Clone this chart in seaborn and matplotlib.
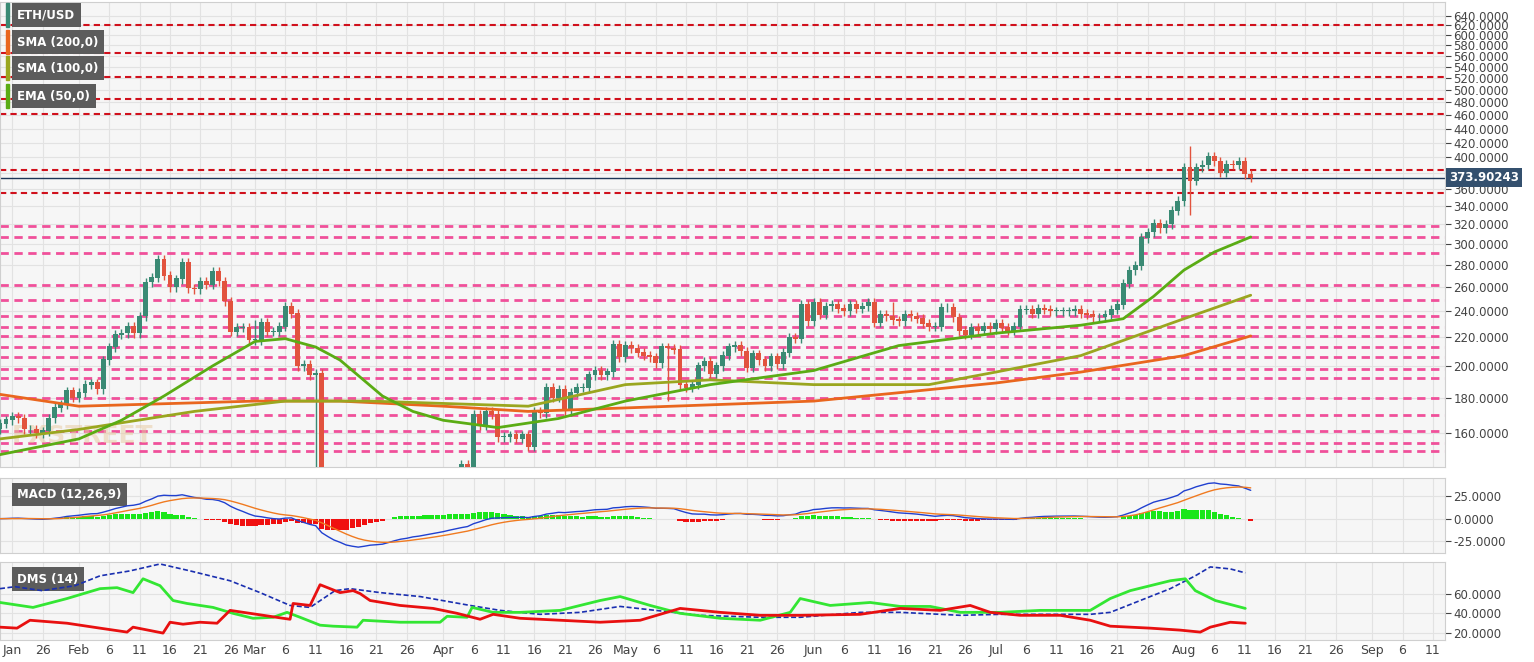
import numpy as np
import pandas as pd
import matplotlib
matplotlib.use("Agg")
import matplotlib.pyplot as plt
import seaborn as sns
from matplotlib.ticker import FixedLocator, NullLocator

sns.set_style("whitegrid")
plt.rcParams['font.family'] = ['DejaVu Sans']

# ---- data (day index 0 = Jan 19, 2020) ----
close_jan = [165,167,169,168,162,162,160,161,168,174,176,184,180]
close_feb = [183,188,189,185,204,213,222,223,228,223,236,264,268,285,270,260,267,282,259,258,
             265,262,274,265,248,224,227,227,218]
close_mar = [218,231,224,224,228,244,238,200,201,194,195,112,133,124,126,110,118,114,132,133,
             123,122,135,138,136,129,135,128,132,133,133]
close_apr = [136,141,141,144,143,170,164,172,170,158,158,159,157,159,153,172,171,186,180,185,
             172,183,186,186,194,197,194,196,215,206]
close_may = [214,212,209,207,206,202,213,212,211,188,186,188,200,203,195,200,207,213,214,210,
             199,208,204,200,206,201,209,220,219,245,232]
close_jun = [247,237,244,245,242,240,245,242,244,247,231,237,236,233,232,237,236,234,230,228,
             228,243,243,235,225,222,227,225,228,226]
close_jul = [230,227,225,228,241,241,238,242,241,240,240,240,240,241,238,237,235,235,237,241,
             245,263,275,279,306,312,321,316,320,335,346]
close_aug = [387,370,387,390,401,395,380,391,390,395,378,374]
first_open = 162
extra_high = {196: 415, 147: 247, 42: 233}
extra_low = {196: 330, 52: 140, 110: 178}

# moving averages (day index, value)
ema50_pts = [(0,149),(13,157),(20,167),(27,181),(35,200),(42,217),(47,219),(52,213),(56,204),
             (63,181),(68,172),(73,167),(82,163),(92,168),(103,178),(117,188),(134,197),(148,214),
             (164,223),(178,229),(185,234),(190,252),(195,275),(200,292),(206,307)]
sma100_pts = [(0,157),(13,162),(32,172),(47,178),(61,178),(87,175),(103,188),(117,191),(134,188),
              (153,188),(164,196),(178,207),(195,234),(206,253)]
sma200_pts = [(0,182),(13,175),(42,178),(56,178),(73,175),(87,172),(103,174),(134,178),(148,183),
              (164,189),(178,196),(195,207),(206,221)]

# DMS lines (pixel x, value)
adx_pts = [(0,65),(15,67),(42,63),(75,68),(100,78),(130,83),(160,90),(190,83),(230,73),(260,61),
           (290,48),(310,46),(335,63),(350,65),(380,61),(420,57),(470,48),(500,43),(540,39),(580,41),
           (620,47),(700,38),(760,36),(800,36),(860,41),(900,41),(960,38),(1000,39),(1050,39),(1090,39),
           (1110,41),(1140,53),(1170,65),(1195,78),(1210,87),(1230,85),(1245,81)]
dip_pts = [(0,51),(33,46),(67,55),(100,65),(117,66),(133,61),(143,75),(160,68),(173,53),(187,50),
           (200,48),(213,46),(233,40),(253,35),(273,36),(287,41),(300,36),(320,28),(333,27),(357,26),
           (363,33),(400,31),(440,31),(447,37),(467,36),(472,46),(493,41),(520,41),(560,43),(600,53),
           (620,57),(650,48),(680,40),(720,35),(760,33),(790,41),(800,55),(830,48),(870,51),(900,47),
           (930,47),(960,41),(1000,41),(1040,43),(1090,43),(1110,55),(1130,63),(1150,68),(1170,73),
           (1185,75),(1195,63),(1215,53),(1245,45)]
dim_pts = [(0,26),(17,25),(30,33),(67,30),(100,25),(127,21),(133,26),(163,20),(170,31),(183,29),
           (200,31),(217,30),(230,43),(250,40),(283,35),(290,34),(293,50),(310,48),(320,69),(340,61),
           (353,63),(360,60),(370,53),(400,48),(433,45),(457,40),(480,34),(493,39),(520,35),(560,33),
           (600,31),(640,33),(680,45),(720,41),(760,38),(800,38),(860,39),(900,45),(940,43),(970,48),
           (990,41),(1020,38),(1060,38),(1090,33),(1110,27),(1150,25),(1180,23),(1200,21),(1210,26),
           (1230,31),(1245,30)]

red_levels = [620, 565, 522, 486, 462, 383, 355]
pink_levels = [318, 307, 291, 262, 249, 236, 228, 221, 213, 206, 198, 192, 180, 170, 161, 155, 151]
price_ticks = list(range(160, 641, 20))
last_price = 373.90243

# ---- build frames ----
close = np.array(close_jan+close_feb+close_mar+close_apr+close_may+close_jun+close_jul+close_aug, float)
n = len(close)
days = np.arange(n)
opn = np.concatenate([[first_open], close[:-1]])
high = np.maximum(opn, close)*1.015
low = np.minimum(opn, close)*0.985
for k, v in extra_high.items(): high[k] = v
for k, v in extra_low.items(): low[k] = v

PX = 6.07  # pixels per day in reference
def px2day(p): return p/PX

W, H = 1534, 662
fig = plt.figure(figsize=(W/100, H/100), dpi=100)
fig.patch.set_facecolor("white")
def axrect(top, bot):
    return [0, 1-bot/H, 1445/W, (bot-top)/H]
ax = fig.add_axes(axrect(2, 467))
axm = fig.add_axes(axrect(478, 553), sharex=ax)
axd = fig.add_axes(axrect(562, 640), sharex=ax)

for a in (ax, axm, axd):
    a.set_facecolor("#f6f6f6")
    a.grid(True, color="#e2e2e2", lw=0.8)
    a.yaxis.tick_right()
    a.tick_params(axis="y", labelsize=8.5, colors="#444", length=4, pad=2)
    for s in a.spines.values():
        s.set_color("#cfcfcf")

# main price
ax.set_yscale("log")
ax.set_ylim(143, 670)
ax.set_xlim(0, 238)
for lv in pink_levels:
    ax.axhline(lv, color="#f0509a", ls=(0, (3, 2)), lw=2, zorder=1)
for lv in red_levels:
    ax.axhline(lv, color="#d0101c", ls=(0, (3, 2)), lw=1.5, zorder=1)
ax.axhline(last_price, color="#1d3557", lw=1, zorder=2)

up = close >= opn
colors = np.where(up, "#3a8a74", "#e2533e")
ax.vlines(days, low, high, colors=colors, lw=1, zorder=3)
ax.bar(days, np.abs(close-opn)+0.5, bottom=np.minimum(opn, close), width=0.8,
       color=colors, edgecolor=colors, linewidth=0, zorder=4)

for pts, col in [(sma200_pts, "#e9661e"), (sma100_pts, "#9aa61f"), (ema50_pts, "#5aac14")]:
    df = pd.DataFrame(pts, columns=["d", "v"])
    sns.lineplot(data=df, x="d", y="v", ax=ax, color=col, lw=2, zorder=5)
ax.set_xlabel(""); ax.set_ylabel("")
ax.yaxis.set_major_locator(FixedLocator(price_ticks))
ax.yaxis.set_minor_locator(NullLocator())
ax.set_yticklabels([f"{t:.4f}" for t in price_ticks])
ax.text(2, 155, "FXSTREET", fontsize=18, fontweight="bold", color="#e8c9a0", alpha=0.5, zorder=2)
ax.annotate(f"{last_price:.5f}", xy=(1.0, last_price), xycoords=("axes fraction", "data"),
            xytext=(3, 0), textcoords="offset points", va="center", ha="left", fontsize=8.5,
            fontweight="bold", color="white",
            bbox=dict(boxstyle="square,pad=0.25", fc="#34506e", ec="none"), annotation_clip=False,
            zorder=20)

def tag(a, y_px_frac, text, stripe):
    a.text(0.012, y_px_frac, text, transform=a.transAxes, fontsize=8.5, color="white",
           fontweight="bold", va="center", ha="left",
           bbox=dict(boxstyle="square,pad=0.45", fc="#5c5c5c", ec="none"), zorder=10)
    a.add_patch(plt.Rectangle((0.004, y_px_frac-0.025), 0.002, 0.05, transform=a.transAxes,
                              color=stripe, zorder=11, clip_on=False))
hm = 465.0
tag(ax, 1-(15-2)/hm, "ETH/USD", "#3a8a74")
tag(ax, 1-(42-2)/hm, "SMA (200,0)", "#e9661e")
tag(ax, 1-(68-2)/hm, "SMA (100,0)", "#9aa61f")
tag(ax, 1-(96-2)/hm, "EMA (50,0)", "#5aac14")

# MACD
s = pd.Series(close)
macd = s.ewm(span=12, adjust=False).mean() - s.ewm(span=26, adjust=False).mean()
sig = macd.ewm(span=9, adjust=False).mean()
hist = macd - sig
axm.bar(days, hist, width=0.85, color=np.where(hist >= 0, "#19e619", "#f01010"),
        linewidth=0, zorder=3)
axm.plot(days, macd, color="#2040d0", lw=1, zorder=4)
axm.plot(days, sig, color="#f07a20", lw=1, zorder=4)
axm.set_ylim(-38, 45)
axm.set_yticks([-25, 0, 25])
axm.set_yticklabels(["-25.0000", "0.0000", "25.0000"])
axm.text(0.012, 0.78, "MACD (12,26,9)", transform=axm.transAxes, fontsize=8.5, color="white",
         fontweight="bold", va="center", bbox=dict(boxstyle="square,pad=0.45", fc="#5c5c5c", ec="none"))

# DMS
for pts, col, ls, lw in [(adx_pts, "#1a2fb0", (0, (3, 1.5)), 1.2), (dip_pts, "#33e633", "-", 2),
                         (dim_pts, "#e81010", "-", 2)]:
    df = pd.DataFrame({"d": [px2day(p) for p, _ in pts], "v": [v for _, v in pts]})
    sns.lineplot(data=df, x="d", y="v", ax=axd, color=col, lw=lw, linestyle=ls, zorder=4)
axd.set_xlabel(""); axd.set_ylabel("")
axd.set_ylim(13, 92)
axd.set_yticks([20, 40, 60])
axd.set_yticklabels(["20.0000", "40.0000", "60.0000"])
axd.text(0.012, 0.78, "DMS (14)", transform=axd.transAxes, fontsize=8.5, color="white",
         fontweight="bold", va="center", bbox=dict(boxstyle="square,pad=0.45", fc="#5c5c5c", ec="none"))

# x ticks
month_starts = {"Feb": 13, "Mar": 42, "Apr": 73, "May": 103, "Jun": 134, "Jul": 164, "Aug": 195, "Sep": 226}
ticks, labels = [2, 7], ["Jan", "26"]
mlist = list(month_starts.items())
for i, (m, st) in enumerate(mlist):
    nxt = mlist[i+1][1] if i+1 < len(mlist) else 239
    ticks.append(st); labels.append(m)
    for dd in (6, 11, 16, 21, 26):
        if st+dd-1 < nxt:
            ticks.append(st+dd-1); labels.append(str(dd))
for a in (ax, axm):
    a.tick_params(axis="x", labelbottom=False, length=0)
axd.set_xticks(ticks)
axd.set_xticklabels(labels)
axd.tick_params(axis="x", labelsize=9, colors="#444", length=0, pad=3)
axd.set_xlim(0, 238)

fig.savefig("out.png", dpi=100)
